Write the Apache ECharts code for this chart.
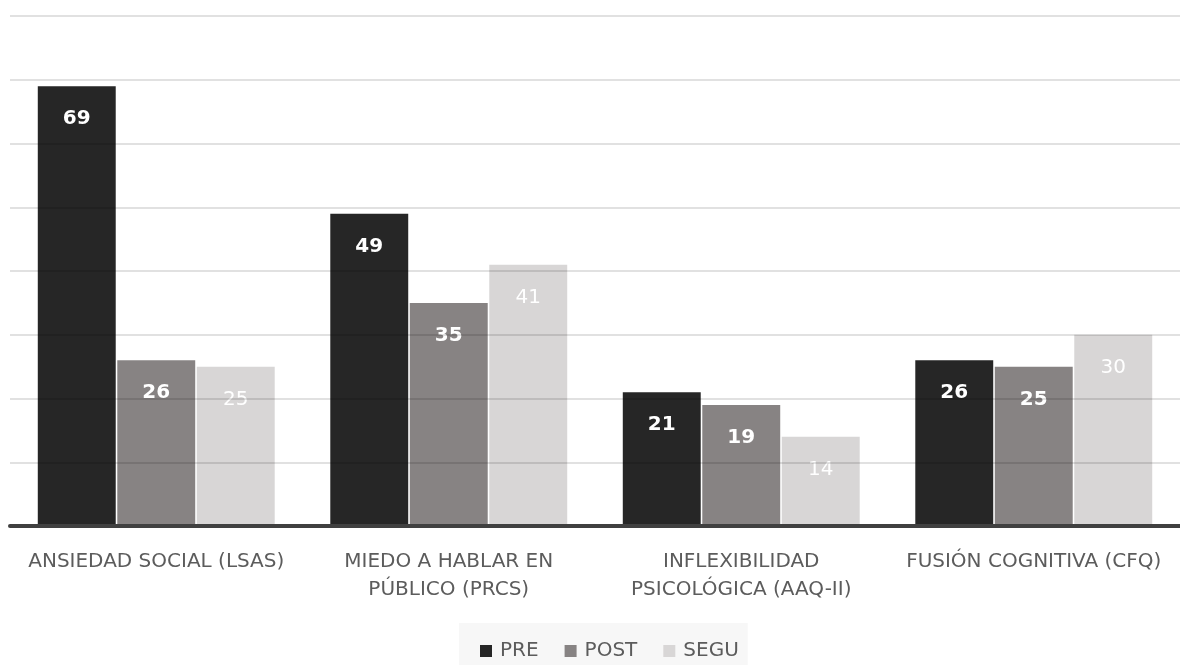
<!DOCTYPE html>
<html>
<head>
<meta charset="utf-8">
<script src="https://cdn.jsdelivr.net/npm/echarts@6/dist/echarts.min.js"></script>
<style>html,body{margin:0;padding:0;background:#fff}#c{width:1180px;height:665px}</style>
</head>
<body>
<div id="c"></div>
<script>
const categories = ['ANSIEDAD SOCIAL (LSAS)', 'MIEDO A HABLAR EN\nPÚBLICO (PRCS)', 'INFLEXIBILIDAD\nPSICOLÓGICA (AAQ-II)', 'FUSIÓN COGNITIVA (CFQ)'];
const seriesNames = ['PRE', 'POST', 'SEGU'];
const pre = [69, 49, 21, 26];
const post = [26, 35, 19, 25];
const segu = [25, 41, 14, 30];
const yMin = 0, yMax = 80, yInterval = 10;

const colors = ['#262626', '#878383', '#d8d6d6'];
const FONT = 'DejaVu Sans';

function mk(name, data, color, bold) {
  return {
    name: name, type: 'bar', data: data,
    barGap: '2%', barCategoryGap: '19%',
    itemStyle: { color: color },
    label: {
      show: true, position: 'insideTop', distance: 23,
      color: '#ffffff', fontSize: 20, fontFamily: FONT,
      fontWeight: bold ? 'bold' : 'normal'
    }
  };
}

const chart = echarts.init(document.getElementById('c'));
chart.setOption({
  animation: false,
  backgroundColor: '#ffffff',
  grid: { left: 10, right: 0, top: 16, bottom: 139, containLabel: false },
  legend: {
    data: seriesNames, left: 459, top: 623,
    backgroundColor: '#f7f7f7',
    padding: [18, 9, 24, 21],
    itemWidth: 12, itemHeight: 12, itemGap: 26,
    icon: 'rect',
    textStyle: { fontSize: 20, color: '#5c5c5c', fontFamily: FONT, padding: [0, 0, 0, 3] }
  },
  xAxis: {
    type: 'category', data: categories, z: 4,
    axisLine: { show: true, lineStyle: { color: '#404040', width: 4 } },
    axisTick: { show: false },
    axisLabel: { color: '#5c5c5c', fontSize: 20, fontFamily: FONT, margin: 22, lineHeight: 28, interval: 0 }
  },
  yAxis: {
    type: 'value', min: yMin, max: yMax, interval: yInterval, z: 3,
    axisLine: { show: false }, axisTick: { show: false }, axisLabel: { show: false },
    splitLine: { show: true, lineStyle: { color: 'rgba(0,0,0,0.16)', width: 1.5 } }
  },
  series: [
    mk(seriesNames[0], pre, colors[0], true),
    mk(seriesNames[1], post, colors[1], true),
    mk(seriesNames[2], segu, colors[2], false)
  ]
});
</script>
</body>
</html>
